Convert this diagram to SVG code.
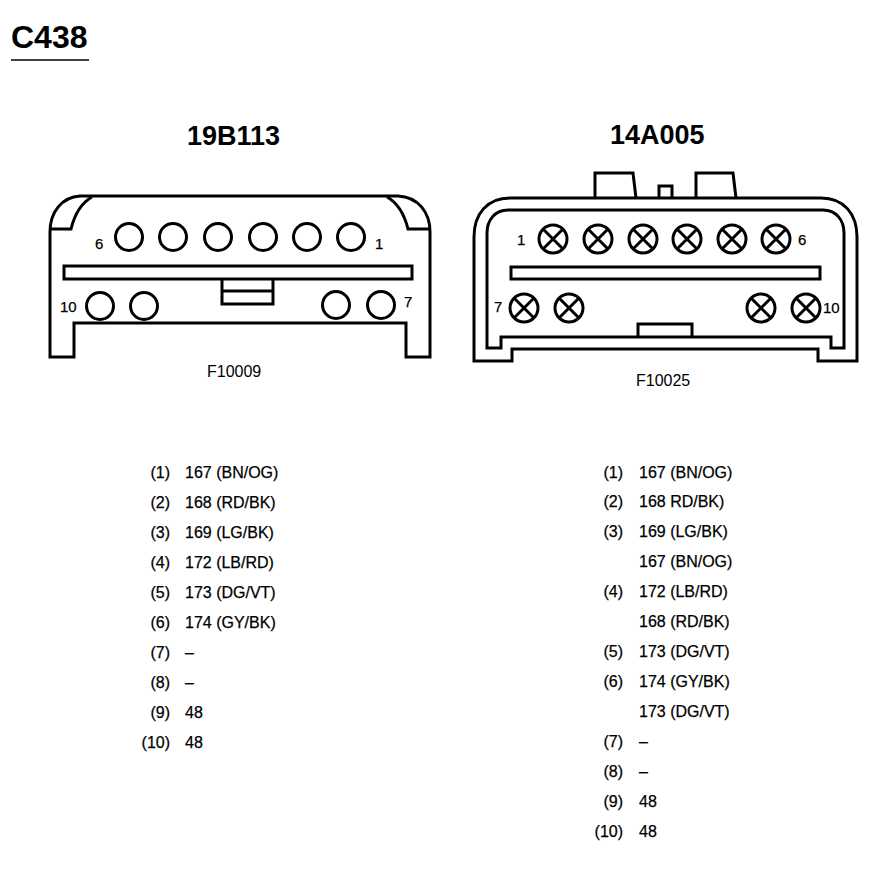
<svg xmlns="http://www.w3.org/2000/svg" width="872" height="896" viewBox="0 0 872 896">
<style>
text{font-family:"Liberation Sans",Arial,sans-serif;fill:#000}
.t{font-size:32px;font-weight:700}
.h{font-size:27px;font-weight:700}
.l{font-size:16px;stroke:#000;stroke-width:.25}
.n{font-size:15px;stroke:#000;stroke-width:.25}
.f{font-size:16px}
.e{text-anchor:end}
.s{fill:none;stroke:#000;stroke-width:3;stroke-linejoin:miter}
.p{fill:none;stroke:#000;stroke-width:3}
</style>
<defs>
<g id="pin"><circle class="p" r="13.5"/></g>
<g id="xpin"><circle class="p" r="14"/><path class="p" d="M-10-10L10 10M10-10L-10 10"/></g>
</defs>
<text class="t" x="11" y="48">C438</text>
<path d="M11 60H89" stroke="#000" stroke-width="1.5"/>
<g id="connector-19B113">
<text class="h" x="187" y="145">19B113</text>
<path class="s" d="M50 357V232C50 212 62 197 80 196H398C418 197 430 212 430 232V357H406V323H74V357Z"/>
<path class="s" d="M51 229H71C75 213 81 203 92 197M429 229H408C404 213 398 203 387 197"/>
<rect class="s" x="64" y="266" width="348" height="13"/>
<path class="s" d="M222 279V304H273V279M222 291H273"/>
<use href="#pin" x="129" y="237"/><use href="#pin" x="173" y="237"/><use href="#pin" x="218" y="237"/><use href="#pin" x="263" y="237"/><use href="#pin" x="307" y="237"/><use href="#pin" x="351" y="237"/>
<use href="#pin" x="100" y="306"/><use href="#pin" x="144" y="306"/><use href="#pin" x="336" y="305"/><use href="#pin" x="381" y="305"/>
<text class="n" x="95" y="249">6</text><text class="n" x="375" y="249">1</text><text class="n" x="60" y="312">10</text><text class="n" x="404" y="307">7</text>
<text class="f" x="207" y="377">F10009</text>
</g>
<g id="connector-14A005">
<text class="h" x="610" y="144">14A005</text>
<path class="s" d="M595 198V173H633L636 198M659 198V186H672V198M696 198V173H733L736 198"/>
<path class="s" d="M474 361V237C474 214 487 198 510 198H821C844 198 857 214 857 237V361H818V349H512V361Z"/>
<path class="s" d="M487 348V233C487 220 495 210 508 210H823C836 210 844 220 844 233V348H831V337H501V348Z"/>
<rect class="s" x="511" y="267" width="309" height="12"/>
<path class="s" d="M638 336V324H692V336"/>
<use href="#xpin" x="553" y="239"/><use href="#xpin" x="598" y="239"/><use href="#xpin" x="643" y="239"/><use href="#xpin" x="687" y="239"/><use href="#xpin" x="732" y="239"/><use href="#xpin" x="776" y="239"/>
<use href="#xpin" x="524" y="308"/><use href="#xpin" x="569" y="308"/><use href="#xpin" x="761" y="308"/><use href="#xpin" x="806" y="308"/>
<text class="n" x="517" y="245">1</text><text class="n" x="798" y="245">6</text><text class="n" x="494" y="312">7</text><text class="n" x="823" y="313">10</text>
<text class="f" x="636" y="386">F10025</text>
</g>
<g id="list-left">
<text class="l e" x="170" y="478">(1)</text><text class="l" x="185" y="478">167 (BN/OG)</text>
<text class="l e" x="170" y="508">(2)</text><text class="l" x="185" y="508">168 (RD/BK)</text>
<text class="l e" x="170" y="538">(3)</text><text class="l" x="185" y="538">169 (LG/BK)</text>
<text class="l e" x="170" y="568">(4)</text><text class="l" x="185" y="568">172 (LB/RD)</text>
<text class="l e" x="170" y="598">(5)</text><text class="l" x="185" y="598">173 (DG/VT)</text>
<text class="l e" x="170" y="628">(6)</text><text class="l" x="185" y="628">174 (GY/BK)</text>
<text class="l e" x="170" y="658">(7)</text><text class="l" x="185" y="658">–</text>
<text class="l e" x="170" y="688">(8)</text><text class="l" x="185" y="688">–</text>
<text class="l e" x="170" y="718">(9)</text><text class="l" x="185" y="718">48</text>
<text class="l e" x="170" y="748">(10)</text><text class="l" x="185" y="748">48</text>
</g>
<g id="list-right">
<text class="l e" x="623" y="478">(1)</text><text class="l" x="639" y="478">167 (BN/OG)</text>
<text class="l e" x="623" y="507">(2)</text><text class="l" x="639" y="507">168 RD/BK)</text>
<text class="l e" x="623" y="537">(3)</text><text class="l" x="639" y="537">169 (LG/BK)</text>
<text class="l" x="639" y="567">167 (BN/OG)</text>
<text class="l e" x="623" y="597">(4)</text><text class="l" x="639" y="597">172 (LB/RD)</text>
<text class="l" x="639" y="627">168 (RD/BK)</text>
<text class="l e" x="623" y="657">(5)</text><text class="l" x="639" y="657">173 (DG/VT)</text>
<text class="l e" x="623" y="687">(6)</text><text class="l" x="639" y="687">174 (GY/BK)</text>
<text class="l" x="639" y="717">173 (DG/VT)</text>
<text class="l e" x="623" y="747">(7)</text><text class="l" x="639" y="747">–</text>
<text class="l e" x="623" y="777">(8)</text><text class="l" x="639" y="777">–</text>
<text class="l e" x="623" y="807">(9)</text><text class="l" x="639" y="807">48</text>
<text class="l e" x="623" y="837">(10)</text><text class="l" x="639" y="837">48</text>
</g>
</svg>
